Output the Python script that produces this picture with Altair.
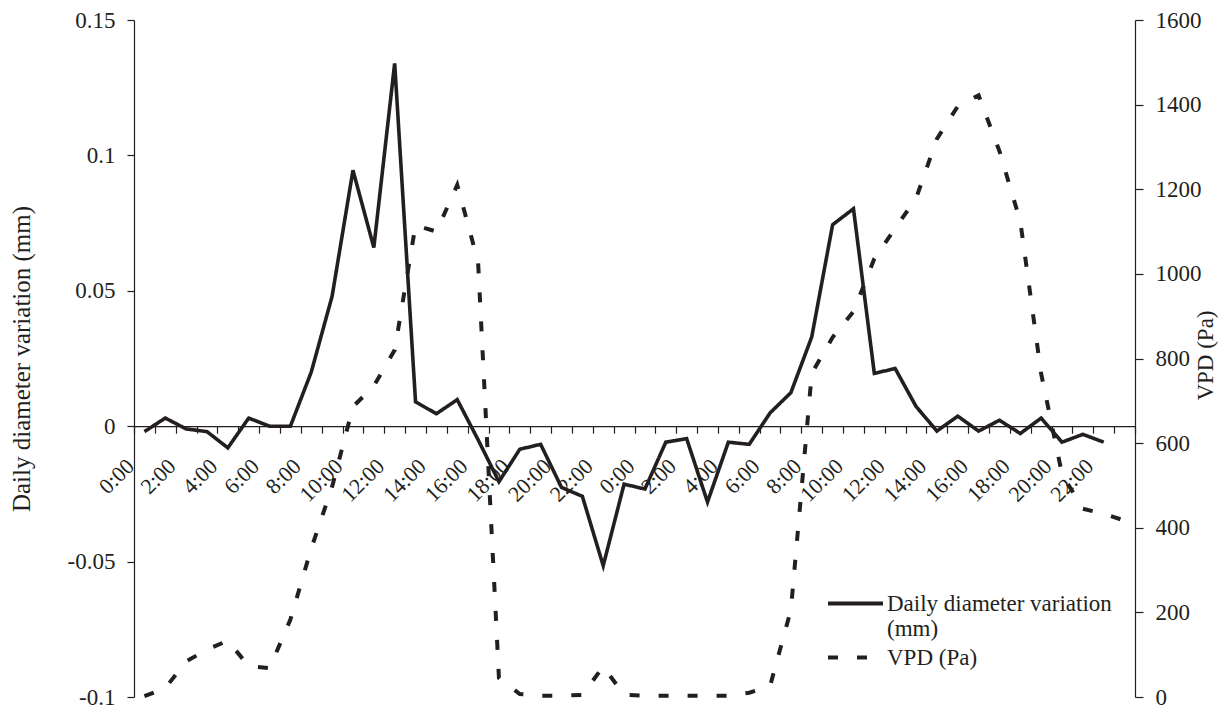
import altair as alt
import pandas as pd

# ---- data -------------------------------------------------------------
SERIES = ["Daily diameter variation (mm)", "VPD (Pa)"]
DASHES = [[1, 0], [10, 19]]

TICK_LABELS = ["0:00", "2:00", "4:00", "6:00", "8:00", "10:00", "12:00",
               "14:00", "16:00", "18:00", "20:00", "22:00",
               "0:00", "2:00", "4:00", "6:00", "8:00", "10:00", "12:00",
               "14:00", "16:00", "18:00", "20:00", "22:00"]

# daily diameter variation (mm), hourly from 0:00 day 1 to 22:00 day 2
DDV = [-0.002, 0.003, -0.001, -0.002, -0.008, 0.003, 0.000, 0.000,
       0.020, 0.048, 0.0945, 0.066, 0.134, 0.009, 0.0046, 0.0098,
       -0.005, -0.0205, -0.0085, -0.0067, -0.0226, -0.0259, -0.0515, -0.0214,
       -0.0232, -0.0059, -0.0046, -0.028, -0.0059, -0.0067, 0.0049, 0.0124,
       0.033, 0.0744, 0.0803, 0.0195, 0.0213, 0.0073, -0.0018, 0.0037,
       -0.0018, 0.0022, -0.0027, 0.003, -0.0059, -0.003, -0.0059]

# VPD (Pa), hourly from 0:00 day 1 to 23:00 day 2
VPD = [2, 21, 84, 112, 133, 73, 68, 183,
       351, 497, 686, 735, 820, 1115, 1100, 1210,
       1028, 45, 7, 3, 3, 5, 72, 5,
       3, 3, 3, 3, 3, 10, 26, 206,
       765, 850, 911, 1036, 1108, 1178, 1319, 1396,
       1422, 1290, 1124, 764, 527, 445, 433, 417]

N_CATS = 48
LEFT_DOMAIN = [-0.1, 0.15]
LEFT_TICKS = [-0.1, -0.05, 0, 0.05, 0.1, 0.15]
RIGHT_DOMAIN = [0, 1600]
RIGHT_TICKS = [0, 200, 400, 600, 800, 1000, 1200, 1400, 1600]

# ---- styling ------------------------------------------------------------
INK = "#231f20"
FONT = "Liberation Serif"
W, H = 1001, 677

ddv_df = pd.DataFrame({"idx": list(range(len(DDV))), "value": DDV,
                       "series": SERIES[0]})
vpd_df = pd.DataFrame({"idx": list(range(len(VPD))), "value": VPD,
                       "series": SERIES[1]})

# ticks on category boundaries, a label on every second boundary
boundaries = [k - 0.5 for k in range(N_CATS + 1)]
slots = []
for k in range(N_CATS + 1):
    slots.append(TICK_LABELS[k // 2] if (k % 2 == 0 and k < N_CATS) else "")
label_expr = "[" + ",".join("'%s'" % s for s in slots) + "][round(datum.value + 0.5)]"

# x axis crosses the left axis at 0
zero_frac = (0 - LEFT_DOMAIN[0]) / (LEFT_DOMAIN[1] - LEFT_DOMAIN[0])
x_offset = -H * zero_frac

x_enc = alt.X(
    "idx:Q",
    scale=alt.Scale(domain=[-0.5, N_CATS - 0.5], nice=False, zero=False),
    axis=alt.Axis(values=boundaries, labelExpr=label_expr, title=None,
                  offset=x_offset, tickSize=7, labelAngle=315,
                  labelAlign="right", labelBaseline="middle",
                  labelPadding=29, labelOffset=-4, grid=False,
                  domainColor=INK, tickColor=INK, labelColor=INK,
                  labelFont=FONT, labelFontSize=22, labelOverlap=False,
                  labelBound=False, labelFlush=False, domainWidth=1.2,
                  tickWidth=1.2),
)


def make_legend(y, label_expr_text=None):
    kw = dict(title=None, orient="none", legendX=692, legendY=y,
              symbolType="stroke", symbolSize=3025, symbolStrokeWidth=4,
              symbolStrokeColor=INK, labelFont=FONT, labelFontSize=23,
              labelColor=INK, labelOffset=2, labelLimit=500, padding=0)
    if label_expr_text:
        kw["labelExpr"] = label_expr_text
    return alt.Legend(**kw)


first, second = SERIES[0].rsplit(" ", 1)
legend_ddv = make_legend(
    554, "datum.label == '%s' ? ['%s', '%s'] : datum.label"
    % (SERIES[0], first, second))
legend_vpd = make_legend(608)

left_axis = alt.Axis(values=LEFT_TICKS, labelExpr="toString(datum.value)",
                     title=SERIES[0], grid=False, tickSize=7, labelPadding=12,
                     domainColor=INK, tickColor=INK, labelColor=INK,
                     titleColor=INK, labelFont=FONT, titleFont=FONT,
                     labelFontSize=23, titleFontSize=25, titleFontWeight="normal",
                     titleX=-113, titleBaseline="middle", titleAngle=270,
                     domainWidth=1.2, tickWidth=1.2)

right_axis = alt.Axis(values=RIGHT_TICKS, orient="right", title=SERIES[1],
                      labelExpr="toString(datum.value)",
                      grid=False, tickSize=8, labelPadding=12,
                      domainColor=INK, tickColor=INK, labelColor=INK,
                      titleColor=INK, labelFont=FONT, titleFont=FONT,
                      labelFontSize=23, titleFontSize=23,
                      titleFontWeight="normal", titleX=70, titleY=335,
                      titleBaseline="middle", titleAngle=270,
                      domainWidth=1.2, tickWidth=1.2)

line_ddv = alt.Chart(ddv_df).mark_line(color=INK, strokeWidth=3.6).encode(
    x=x_enc,
    y=alt.Y("value:Q", scale=alt.Scale(domain=LEFT_DOMAIN, nice=False),
            axis=left_axis),
    strokeDash=alt.StrokeDash(
        "series:N", scale=alt.Scale(domain=[SERIES[0]], range=[DASHES[0]]),
        legend=legend_ddv),
)

line_vpd = alt.Chart(vpd_df).mark_line(color=INK, strokeWidth=4).encode(
    x=x_enc,
    y=alt.Y("value:Q", scale=alt.Scale(domain=RIGHT_DOMAIN, nice=False),
            axis=right_axis),
    strokeDash=alt.StrokeDash(
        "series:N", scale=alt.Scale(domain=[SERIES[1]], range=[DASHES[1]]),
        legend=legend_vpd),
)

chart = (
    alt.layer(line_ddv, line_vpd)
    .resolve_scale(y="independent", strokeDash="independent")
    .resolve_legend(strokeDash="independent")
    .properties(width=W, height=H,
                padding={"left": 126, "top": 12, "right": 85, "bottom": 11},
                autosize=alt.AutoSizeParams(type="none"),
                background="white")
    .configure_view(stroke=None)
)

chart.save("out.html", embed_options={"renderer": "svg", "actions": False})
